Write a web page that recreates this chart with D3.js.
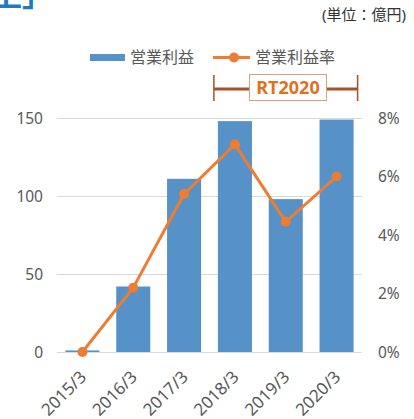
<!DOCTYPE html>
<html>
<head>
<meta charset="utf-8">
<script src="https://cdn.jsdelivr.net/npm/d3@7"></script>
<style>
  html, body { margin: 0; padding: 0; background: #fff; }
  svg { display: block; }
  text { font-family: "Noto Sans", "Noto Sans CJK JP", sans-serif; }
</style>
</head>
<body>
<svg width="414" height="419"></svg>
<script>
const years = ["2015/3", "2016/3", "2017/3", "2018/3", "2019/3", "2020/3"];
const profit = [1, 42, 111, 148, 98, 149];          // 営業利益 (億円)
const margin = [0, 2.2, 5.4, 7.1, 4.45, 6.0];       // 営業利益率 (%)
const leftTicks = [0, 50, 100, 150];
const rightTicks = [0, 2, 4, 6, 8];

const BLUE = "#5692c8";
const ORANGE = "#ed7d31";
const GREY = "#595959";
const JP = "'Noto Sans CJK JP', sans-serif";

const svg = d3.select("svg");

const x = d3.scaleBand().domain(years).range([57, 362]).paddingInner(0.33).paddingOuter(0.165);
const y = d3.scaleLinear().domain([0, 150]).range([352, 118]);
const y2 = d3.scaleLinear().domain([0, 8]).range([352, 118]);

// heading, cut off by the top edge
svg.append("text")
  .attr("x", -8).attr("y", 6)
  .attr("font-family", JP).attr("font-size", 30).attr("font-weight", "bold")
  .attr("fill", "#1f7ac0")
  .text("上」");

svg.append("text")
  .attr("x", 406).attr("y", 20)
  .attr("text-anchor", "end")
  .attr("font-family", JP).attr("font-size", 15)
  .attr("fill", "#333")
  .text("(単位：億円)");

// gridlines
svg.append("g")
  .selectAll("line")
  .data(leftTicks)
  .join("line")
  .attr("x1", 57).attr("x2", 362)
  .attr("y1", d => Math.round(y(d)) + 0.5).attr("y2", d => Math.round(y(d)) + 0.5)
  .attr("stroke", "#d9d9d9");

// axes
const leftAxis = svg.append("g")
  .attr("transform", "translate(57,0)")
  .call(d3.axisLeft(y).tickValues(leftTicks).tickSize(0).tickPadding(14));
const rightAxis = svg.append("g")
  .attr("transform", "translate(362,0)")
  .call(d3.axisRight(y2).tickValues(rightTicks).tickSize(0).tickPadding(16).tickFormat(d => d + "%"));
[leftAxis, rightAxis].forEach(g => {
  g.select(".domain").remove();
  g.selectAll("text").attr("font-size", 15.5).attr("fill", GREY).attr("dy", "0.35em");
});

const xAxis = svg.append("g")
  .attr("transform", "translate(0,352)")
  .call(d3.axisBottom(x).tickSize(0).tickPadding(0));
xAxis.select(".domain").remove();
xAxis.selectAll("text")
  .attr("font-size", 17).attr("fill", GREY)
  .attr("text-anchor", "end")
  .attr("y", 0).attr("dy", 0)
  .attr("transform", "translate(5,26) rotate(-45)");

// bars
svg.append("g")
  .selectAll("rect")
  .data(profit)
  .join("rect")
  .attr("x", (d, i) => x(years[i]))
  .attr("width", x.bandwidth())
  .attr("y", d => y(d))
  .attr("height", d => y(0) - y(d))
  .attr("fill", BLUE);

// margin line
const cx = (d, i) => x(years[i]) + x.bandwidth() / 2;
svg.append("path")
  .datum(margin)
  .attr("fill", "none")
  .attr("stroke", ORANGE)
  .attr("stroke-width", 3)
  .attr("stroke-linejoin", "round")
  .attr("d", d3.line().x(cx).y(d => y2(d)));
svg.append("g")
  .selectAll("circle")
  .data(margin)
  .join("circle")
  .attr("cx", cx)
  .attr("cy", d => y2(d))
  .attr("r", 5)
  .attr("fill", ORANGE);

// legend
const lg = svg.append("g");
lg.append("rect").attr("x", 90).attr("y", 54).attr("width", 35).attr("height", 7).attr("fill", BLUE);
lg.append("text").attr("x", 130).attr("y", 57.5).attr("dy", "0.35em")
  .attr("font-family", JP).attr("font-size", 16).attr("fill", GREY).text("営業利益");
lg.append("line").attr("x1", 213).attr("x2", 250).attr("y1", 57.5).attr("y2", 57.5)
  .attr("stroke", ORANGE).attr("stroke-width", 3);
lg.append("circle").attr("cx", 234).attr("cy", 57.5).attr("r", 5).attr("fill", ORANGE);
lg.append("text").attr("x", 255).attr("y", 57.5).attr("dy", "0.35em")
  .attr("font-family", JP).attr("font-size", 16).attr("fill", GREY).text("営業利益率");

// RT2020 bracket
const rt = svg.append("g");
const bx0 = x("2018/3") - 4, bx1 = x("2020/3") + x.bandwidth() + 4;
rt.append("line").attr("x1", bx0).attr("x2", bx1).attr("y1", 89).attr("y2", 89)
  .attr("stroke", "#a4522a").attr("stroke-width", 3);
[bx0, bx1].forEach(v => rt.append("line")
  .attr("x1", v).attr("x2", v).attr("y1", 75).attr("y2", 101)
  .attr("stroke", "#a4522a").attr("stroke-width", 1.5));
rt.append("rect").attr("x", 249.5).attr("y", 74.5).attr("width", 77).attr("height", 26)
  .attr("fill", "#fff").attr("stroke", "#d9a27c").attr("stroke-width", 1);
rt.append("text").attr("x", 288).attr("y", 88).attr("dy", "0.36em")
  .attr("text-anchor", "middle")
  .attr("font-size", 18).attr("font-weight", "bold").attr("fill", "#e0701e")
  .text("RT2020");
</script>
</body>
</html>
